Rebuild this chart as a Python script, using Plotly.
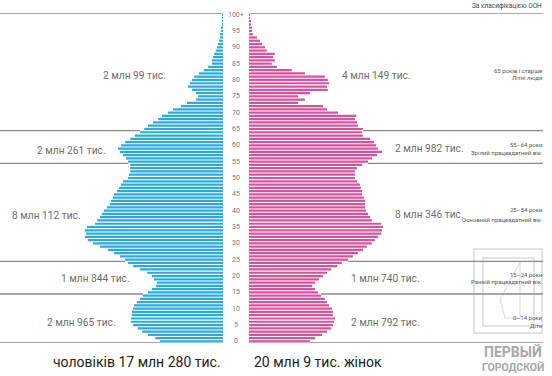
import plotly.graph_objects as go

W, H = 552, 376

ages = list(range(101))
age_ticks = [0, 5, 10, 15, 20, 25, 30, 35, 40, 45, 50, 55, 60, 65, 70, 75, 80, 85, 90, 95, 100]
age_tick_labels = ["0", "5", "10", "15", "20", "25", "30", "35", "40", "45", "50",
                   "55", "60", "65", "70", "75", "80", "85", "90", "95", "100+"]

# population by single year of age, thousands
males = [149, 160, 177, 191, 201, 212, 217, 217, 215, 215,
         212, 210, 203, 196, 189, 177, 168, 158, 156, 163,
         168, 179, 196, 212, 224, 231, 243, 257, 271, 290,
         307, 319, 326, 323, 326, 321, 302, 297, 290, 286,
         281, 274, 267, 264, 260, 257, 250, 245, 241, 236,
         224, 222, 219, 219, 219, 224, 229, 236, 243, 248,
         241, 231, 219, 208, 196, 186, 177, 165, 153, 144,
         130, 118, 99, 85, 64, 59, 64, 73, 83, 78,
         73, 68, 57, 45, 35, 26, 26, 24, 21, 17,
         14, 12, 9, 7, 7, 5, 4, 2, 2, 1, 1]
females = [144, 156, 172, 184, 194, 198, 201, 203, 198, 198,
           196, 189, 184, 179, 170, 163, 156, 149, 156, 165,
           175, 184, 194, 208, 219, 234, 245, 257, 269, 278,
           290, 297, 304, 312, 314, 316, 312, 290, 286, 281,
           276, 274, 274, 274, 271, 267, 267, 264, 262, 255,
           250, 250, 250, 255, 267, 281, 290, 302, 314, 304,
           300, 295, 286, 269, 267, 269, 257, 255, 250, 253,
           210, 184, 175, 116, 132, 116, 144, 186, 184, 189,
           186, 179, 132, 101, 66, 54, 61, 57, 61, 42,
           38, 31, 26, 19, 9, 7, 7, 5, 5, 2, 2]

male_totals = ["2 млн 965 тис.", "1 млн 844 тис.", "8 млн 112 тис.", "2 млн 261 тис.", "2 млн 99 тис."]
female_totals = ["2 млн 792 тис.", "1 млн 740 тис.", "8 млн 346 тис.", "2 млн 982 тис.", "4 млн 149 тис."]
group_ranges = ["0–14 роки", "15–24 роки", "25–54 роки", "55–64 роки", "65 років і старше"]
group_names = ["Діти", "Ранній працездатний вік", "Основний працездатний вік",
               "Зрілий працездатний вік", "Літні люди"]
male_total = "чоловіків 17 млн 280 тис."
female_total = "20 млн 9 тис. жінок"
source_note = "За класифікацією ООН"

MALE_C = "#2aaae0"
FEMALE_C = "#d9529c"
LINE_C = "#8a8a8a"
GRAY_T = "#6e6e6e"
FONT_N = "Roboto"

K = 2.36  # thousands per pixel
male_max = 223 * K
fem_max = (W - 249) * K

def px(x):
    return x / W

def py(y):
    return 1 - y / H

def f_data(xpx):
    return (xpx - 249) * K

fig = go.Figure()
fig.add_trace(go.Bar(y=ages, x=males, orientation="h", marker=dict(color=MALE_C, line_width=0),
                     xaxis="x", yaxis="y", showlegend=False, hoverinfo="skip"))
fig.add_trace(go.Bar(y=ages, x=females, orientation="h", marker=dict(color=FEMALE_C, line_width=0),
                     xaxis="x2", yaxis="y", showlegend=False, hoverinfo="skip"))

shapes = []
bounds = [-0.5, 14.5, 24.5, 54.5, 64.5, 100.5]
for b in bounds:
    nb = [a for a in (int(b - 0.5), int(b + 0.5)) if 0 <= a <= 100]
    mv = max(males[a] for a in nb)
    fv = max(females[a] for a in nb)
    shapes.append(dict(type="line", xref="x", yref="y", x0=male_max, x1=mv, y0=b, y1=b,
                       line=dict(color=LINE_C, width=1.3), layer="below"))
    shapes.append(dict(type="line", xref="x2", yref="y", x0=fv, x1=f_data(543), y0=b, y1=b,
                       line=dict(color=LINE_C, width=1.3), layer="below"))
# faint watermark frame
shapes.append(dict(type="rect", xref="paper", yref="paper", x0=px(474), x1=px(542), y0=py(333), y1=py(249),
                   line=dict(color="rgba(150,150,150,0.35)", width=1.5)))
shapes.append(dict(type="rect", xref="paper", yref="paper", x0=px(483), x1=px(534), y0=py(326), y1=py(258),
                   line=dict(color="rgba(150,150,150,0.35)", width=1.5)))
shapes.append(dict(type="path", xref="paper", yref="paper",
                   path="M %f %f L %f %f L %f %f L %f %f Z" % (px(500), py(300), px(520), py(262),
                                                               px(520), py(318), px(505), py(318)),
                   line=dict(color="rgba(150,150,150,0.3)", width=1.2)))

ann = []

def label(xp, yp, text, size, color, xanchor):
    ann.append(dict(x=px(xp), y=py(yp), xref="paper", yref="paper", text=text, showarrow=False,
                    xanchor=xanchor, yanchor="middle", font=dict(size=size, color=color, family=FONT_N)))

for a, lab in zip(age_ticks, age_tick_labels):
    ann.append(dict(x=px(236), y=a, xref="paper", yref="y", text=lab, showarrow=False,
                    font=dict(size=7, color="#777", family=FONT_N), xanchor="center", yanchor="middle"))

male_label_pos = [(118, 322), (132, 278), (83, 215), (108, 150), (168, 75)]
female_label_pos = [(349, 322), (349, 278), (393, 214), (393, 149), (340, 75)]
range_y = [317, 274, 209, 144.5, 70]
name_y = [325, 281, 219, 152, 78]
for i in range(5):
    label(male_label_pos[i][0], male_label_pos[i][1], male_totals[i], 10.2, GRAY_T, "right")
    label(female_label_pos[i][0], female_label_pos[i][1], female_totals[i], 10.2, GRAY_T, "left")
    label(544, range_y[i], group_ranges[i], 6, "#555", "right")
    label(544, name_y[i], group_names[i], 6, "#555", "right")

label(544, 6.5, source_note, 6.5, "#444", "right")
label(223, 361.5, male_total, 14, "#222", "right")
label(252, 361.5, female_total, 14, "#222", "left")
label(513, 352, "<b>ПЕРВЫЙ</b>", 14, "#a8a8a8", "center")
label(513, 367, "<b>ГОРОДСКОЙ</b>", 10.5, "#a8a8a8", "center")

fig.update_layout(
    width=W, height=H,
    margin=dict(l=0, r=0, t=0, b=0),
    paper_bgcolor="white", plot_bgcolor="white",
    bargap=0.32,
    xaxis=dict(domain=[0, px(223)], range=[male_max, 0], visible=False, fixedrange=True),
    xaxis2=dict(domain=[px(249), 1], range=[0, fem_max], visible=False, fixedrange=True),
    yaxis=dict(domain=[py(343), py(13)], range=[-0.5, 100.5], visible=False, fixedrange=True),
    shapes=shapes,
    annotations=ann,
)

fig.write_html("out.html", config={"displayModeBar": False},
               post_script="document.body.style.margin='0';document.body.style.overflow='hidden';")
